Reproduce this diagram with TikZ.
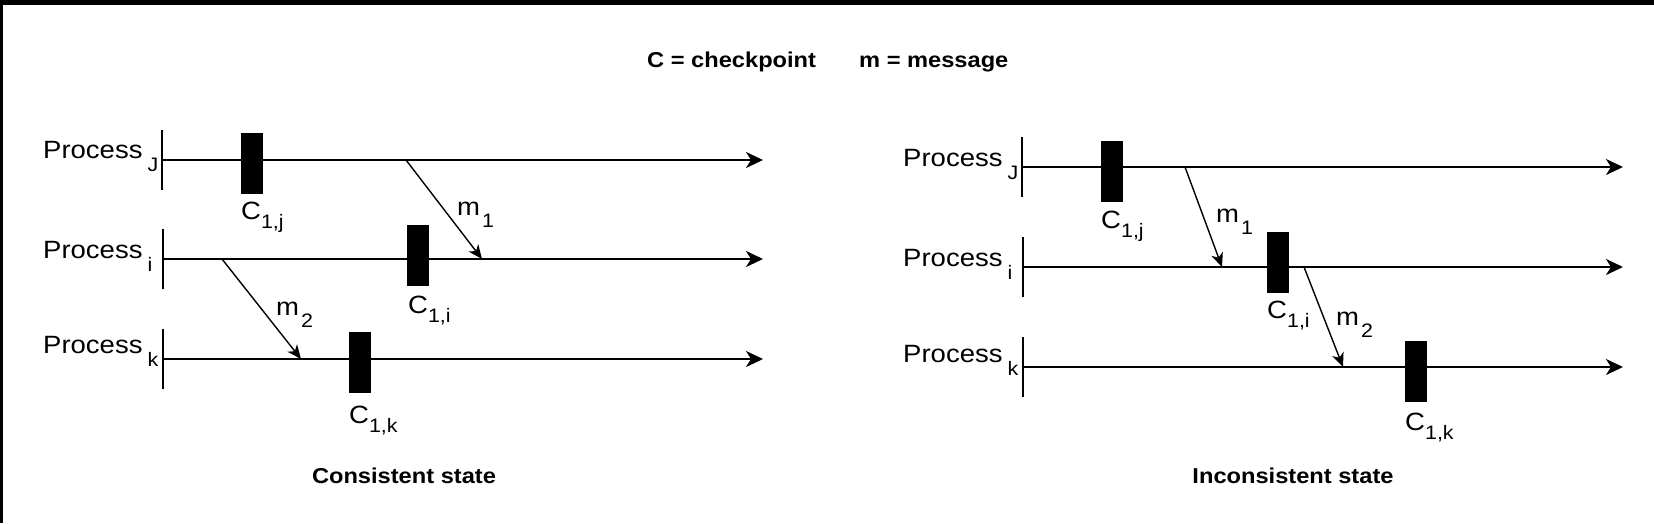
\documentclass[tikz,border=0pt]{standalone}
\usepackage{fontspec}
\setmainfont{Liberation Sans}[FakeStretch=1.1]
\usetikzlibrary{arrows.meta}
\newcommand{\lsub}[2]{\raisebox{-#1pt}{\fontsize{19.5}{19.5}\selectfont #2}}

\begin{document}
\begin{tikzpicture}[
    x=1pt, y=-1pt,
    txt/.style={anchor=base west, inner sep=0pt, font=\fontsize{25}{30}\selectfont},
    caption/.style={anchor=base, inner sep=0pt, font=\fontsize{21.5}{26}\selectfont\bfseries},
    start bar/.style={fill=black, inner sep=0pt, minimum width=2pt, minimum height=60pt},
    ckpt/.style={fill=black, inner sep=0pt, minimum width=22pt, minimum height=61pt},
    timeline/.style={line width=2.3pt, -{Stealth[length=17pt,width=16pt,inset=5pt]}},
    msg/.style={line width=1.4pt, -{Stealth[length=14pt,width=12pt,inset=4pt]}}
  ]
  \useasboundingbox (0,0) rectangle (1654,523);
  \fill (0,0) rectangle (1654,5);
  \fill (0,0) rectangle (3,523);

  % Legend
  \node[caption, anchor=base west] (legc) at (647,67) {C = checkpoint};
  \node[caption, anchor=base west] (legm) at (859,67) {m = message};

  % Consistent state: processes
  \node[txt] (lpj) at (43,158) {Process\kern5pt\lsub{13}{J}};
  \node[txt] (lpi) at (43,258) {Process\kern5pt\lsub{13}{i}};
  \node[txt] (lpk) at (43,353) {Process\kern5pt\lsub{13}{k}};
  \node[start bar] (lbj) at (162,160) {};
  \node[start bar] (lbi) at (163,259) {};
  \node[start bar] (lbk) at (163,359) {};
  \coordinate (ltj) at (763,160);
  \coordinate (lti) at (763,259);
  \coordinate (ltk) at (763,359);
  \draw[timeline] (lbj) -- (ltj);
  \draw[timeline] (lbi) -- (lti);
  \draw[timeline] (lbk) -- (ltk);

  % Consistent state: messages
  \coordinate (lm1s) at (406,160);
  \coordinate (lm1e) at (482,259);
  \coordinate (lm2s) at (222,259);
  \coordinate (lm2e) at (301,359);
  \draw[msg] (lm1s) -- (lm1e);
  \draw[msg] (lm2s) -- (lm2e);
  \node[txt] (lm1) at (457,215) {m\kern2pt\lsub{12}{1}};
  \node[txt] (lm2) at (276,315) {m\kern2pt\lsub{12}{2}};

  % Consistent state: checkpoints
  \node[ckpt] (lcj) at (252,163.5) {};
  \node[ckpt] (lci) at (418,255.5) {};
  \node[ckpt] (lck) at (360,362.5) {};
  \node[txt] (lcjl) at (241,219) {C\lsub{9}{1,j}};
  \node[txt] (lcil) at (408,313) {C\lsub{9}{1,i}};
  \node[txt] (lckl) at (349,423) {C\lsub{9}{1,k}};
  \node[caption] (lcap) at (404,483) {Consistent state};

  % Inconsistent state: processes
  \node[txt] (rpj) at (903,166) {Process\kern5pt\lsub{13}{J}};
  \node[txt] (rpi) at (903,266) {Process\kern5pt\lsub{13}{i}};
  \node[txt] (rpk) at (903,362) {Process\kern5pt\lsub{13}{k}};
  \node[start bar] (rbj) at (1022,167) {};
  \node[start bar] (rbi) at (1023,267) {};
  \node[start bar] (rbk) at (1023,367) {};
  \coordinate (rtj) at (1623,167);
  \coordinate (rti) at (1623,267);
  \coordinate (rtk) at (1623,367);
  \draw[timeline] (rbj) -- (rtj);
  \draw[timeline] (rbi) -- (rti);
  \draw[timeline] (rbk) -- (rtk);

  % Inconsistent state: messages
  \coordinate (rm1s) at (1185,167);
  \coordinate (rm1e) at (1222,267);
  \coordinate (rm2s) at (1304,267);
  \coordinate (rm2e) at (1343,367);
  \draw[msg] (rm1s) -- (rm1e);
  \draw[msg] (rm2s) -- (rm2e);
  \node[txt] (rm1) at (1216,222) {m\kern2pt\lsub{12}{1}};
  \node[txt] (rm2) at (1336,325) {m\kern2pt\lsub{12}{2}};

  % Inconsistent state: checkpoints
  \node[ckpt] (rcj) at (1112,171) {};
  \node[ckpt] (rci) at (1278,262.5) {};
  \node[ckpt] (rck) at (1415.5,371) {};
  \node[txt] (rcjl) at (1101,228) {C\lsub{9}{1,j}};
  \node[txt] (rcil) at (1267,318) {C\lsub{9}{1,i}};
  \node[txt] (rckl) at (1405,430) {C\lsub{9}{1,k}};
  \node[caption] (rcap) at (1293,483) {Inconsistent state};
\end{tikzpicture}
\end{document}
